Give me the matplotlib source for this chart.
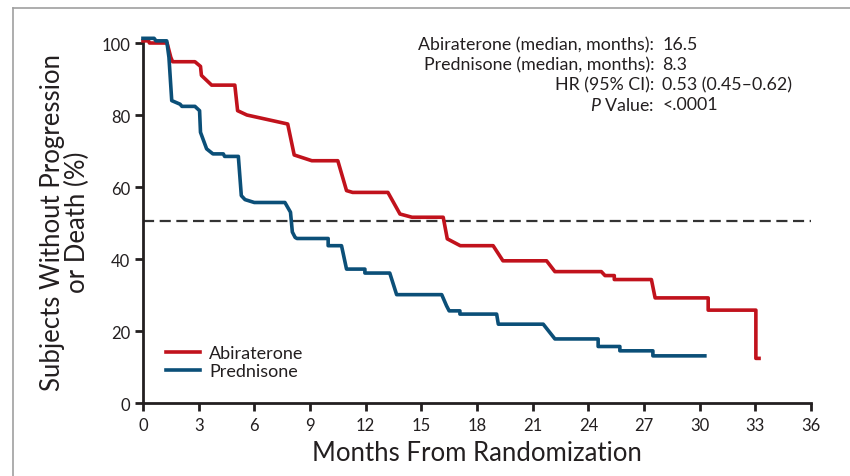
import matplotlib.pyplot as plt
from matplotlib.lines import Line2D

# Kaplan-Meier style progression-free curves (months, % without progression)
abi_t = [0, 0.3, 0.35, 1.3, 1.5, 1.6, 2.8, 3.1, 3.15, 3.7, 4.95, 5.1, 5.6,
         7.8, 8.15, 9.1, 10.5, 10.97, 11.3, 13.2, 13.85, 14.5, 16.18, 16.4,
         17.1, 18.87, 19.4, 21.75, 22.2, 24.7, 24.9, 25.4, 25.4, 27.4, 27.6,
         30.46, 30.46, 33.03, 33.03, 33.2]
abi_s = [100.6, 100.6, 100.0, 100.0, 96.0, 94.8, 94.8, 93.5, 91.0, 88.3,
         88.3, 81.2, 80.0, 77.5, 68.9, 67.3, 67.3, 59.0, 58.5, 58.5, 52.5,
         51.6, 51.6, 45.6, 43.7, 43.7, 39.5, 39.5, 36.5, 36.5, 35.4, 35.4,
         34.3, 34.3, 29.2, 29.2, 25.8, 25.8, 12.4, 12.4]

pred_t = [0, 0.6, 0.7, 1.28, 1.4, 1.55, 2.0, 2.1, 2.8, 3.05, 3.1, 3.43, 3.77,
          4.33, 4.4, 5.14, 5.3, 5.5, 6.0, 7.65, 7.95, 8.05, 8.2, 8.3, 9.98,
          9.98, 10.7, 10.97, 11.96, 11.96, 13.3, 13.67, 16.1, 16.36, 16.5,
          17.08, 17.08, 19.06, 19.15, 21.57, 22.2, 24.53, 24.53, 25.7, 25.7,
          27.48, 27.48, 30.28]
pred_s = [101.3, 101.3, 100.6, 100.6, 96.0, 84.0, 83.0, 82.4, 82.4, 81.2,
          75.2, 70.6, 69.2, 69.2, 68.5, 68.5, 57.6, 56.5, 55.7, 55.7, 53.0,
          47.5, 46.0, 45.7, 45.7, 43.7, 43.7, 37.2, 37.2, 36.1, 36.1, 30.1,
          30.1, 27.0, 25.6, 25.6, 24.7, 24.7, 21.9, 21.9, 17.8, 17.8, 15.7,
          15.7, 14.5, 14.5, 13.1, 13.1]

stat_names = ['Abiraterone (median, months):', 'Prednisone (median, months):',
              'HR (95% CI):', '$\\it{P}$ Value:']
stat_values = ['16.5', '8.3', '0.53 (0.45\u20130.62)', '<.0001']

red = '#c1121c'
blue = '#0b4f78'
ink = '#231f20'
font = 'Lato'

plt.rcParams['font.family'] = [font, 'DejaVu Sans']
plt.rcParams['mathtext.fontset'] = 'custom'
plt.rcParams['mathtext.it'] = font + ':italic'
plt.rcParams['mathtext.rm'] = font

fig = plt.figure(figsize=(8.5, 4.77), dpi=100)
ax = fig.add_axes([0.1682, 0.153, 0.7859, 0.7623])

ax.plot(abi_t, abi_s, color=red, lw=2.6, solid_joinstyle='round',
        label='Abiraterone', clip_on=False, zorder=3)
ax.plot(pred_t, pred_s, color=blue, lw=2.6, solid_joinstyle='round',
        label='Prednisone', clip_on=False, zorder=3)
ax.axhline(50.5, color='#333333', lw=1.6, dashes=(5, 2.5), zorder=2)

ax.set_xlim(0, 36)
ax.set_ylim(0, 101)
ax.set_xticks(range(0, 37, 3))
ax.set_yticks(range(0, 101, 20))
for side in ['top', 'right']:
    ax.spines[side].set_visible(False)
for side in ['left', 'bottom']:
    ax.spines[side].set_linewidth(2)
    ax.spines[side].set_color(ink)
ax.tick_params(width=2, length=6, color=ink, labelsize=12,
               labelcolor=ink)
ax.tick_params(axis='x', pad=4)
ax.tick_params(axis='y', pad=3)

ax.set_xlabel('Months From Randomization', fontsize=18.5, color=ink,
              labelpad=5)
ax.set_ylabel('Subjects Without Progression\nor Death (%)', fontsize=18.5,
              color=ink, labelpad=8, linespacing=1.0)

ax.legend(loc='lower left', bbox_to_anchor=(0.01, 0.02), frameon=False,
          fontsize=13, handlelength=1.9, handletextpad=0.5,
          labelspacing=0.12, labelcolor=ink)

y0 = 0.905
for i, (name, val) in enumerate(zip(stat_names, stat_values)):
    y = y0 - i * 0.042
    fig.text(0.770, y, name, ha='right', va='center', fontsize=12.8,
             color=ink)
    fig.text(0.779, y, val, ha='left', va='center', fontsize=12.8,
             color=ink)

# thin grey frame around the panel
fig.add_artist(Line2D([0.015, 0.015], [0, 0.981], color='#a0a0a0', lw=1.2))
fig.add_artist(Line2D([0.015, 1.0], [0.981, 0.981], color='#a0a0a0', lw=1.2))

fig.savefig('out.png', dpi=100)
